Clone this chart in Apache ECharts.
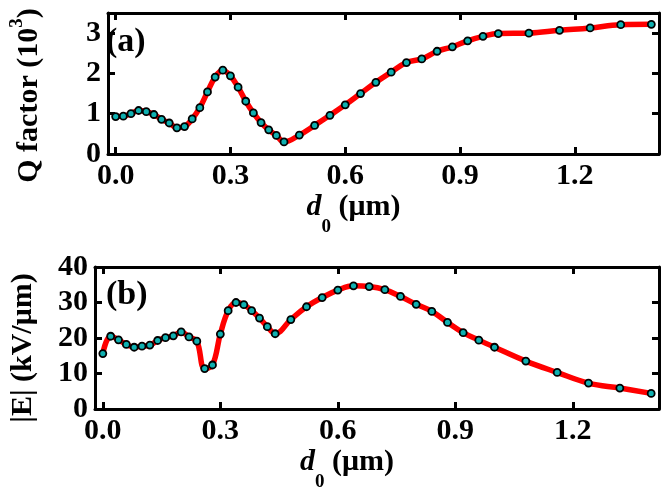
<!DOCTYPE html>
<html>
<head>
<meta charset="utf-8">
<script src="https://cdn.jsdelivr.net/npm/echarts@6/dist/echarts.min.js"></script>
<style>
  html, body { margin: 0; padding: 0; background: #fff; }
  #chart { width: 664px; height: 497px; }
</style>
</head>
<body>
<div id="chart"></div>
<script>
// separation d0 (um), same sampling for both panels
const d0 = [0, 0.02, 0.04, 0.06, 0.08, 0.10, 0.12, 0.14, 0.16, 0.18, 0.20, 0.22,
  0.24, 0.26, 0.28, 0.30, 0.32, 0.34, 0.36, 0.38, 0.40, 0.42, 0.44, 0.48, 0.52,
  0.56, 0.60, 0.64, 0.68, 0.72, 0.76, 0.80, 0.84, 0.88, 0.92, 0.96, 1.00, 1.08,
  1.16, 1.24, 1.32, 1.40];

// (a) Q factor in units of 10^3
const qFactor = [0.93, 0.94, 1.00, 1.08, 1.05, 0.98, 0.86, 0.77, 0.65, 0.68, 0.87, 1.15,
  1.54, 1.91, 2.08, 1.94, 1.66, 1.31, 1.02, 0.78, 0.60, 0.46, 0.30, 0.47, 0.71,
  0.96, 1.22, 1.50, 1.78, 2.03, 2.27, 2.36, 2.55, 2.66, 2.81, 2.92, 2.99, 3.00,
  3.07, 3.13, 3.21, 3.22];

// (b) |E| in kV/um
const eField = [15.6, 20.5, 19.5, 18.2, 17.4, 17.7, 18.0, 19.3, 20.1, 20.6, 21.7, 20.3,
  19.1, 11.4, 12.4, 21.1, 27.7, 30.0, 29.4, 27.7, 25.6, 23.2, 21.2, 25.2, 28.8,
  31.4, 33.5, 34.7, 34.5, 33.6, 31.7, 29.5, 27.5, 24.4, 21.5, 19.4, 17.4, 13.5,
  10.3, 7.3, 5.9, 4.4];

const xTicks = [0, 0.3, 0.6, 0.9, 1.2];
const qTicks = [0, 1, 2, 3];
const eTicks = [0, 10, 20, 30, 40];

const FONT = "Liberation Serif";
const myChart = echarts.init(document.getElementById("chart"));

const frameLine = { show: true, onZero: false, lineStyle: { color: "#000", width: 3 } };

function tickStyle(values) {
  return { show: true, inside: true, length: 7, customValues: values,
    lineStyle: { color: "#000", width: 3 } };
}

function labelStyle(values, digits) {
  return {
    show: true, margin: 7, customValues: values,
    color: "#000", fontFamily: FONT, fontWeight: "bold", fontSize: 30,
    formatter: v => Number(v).toFixed(digits)
  };
}

// x name with italic d and subscript 0
const xName = {
  name: "{i|d}{s|0}{n| (μm)}",
  nameLocation: "middle",
  nameGap: 17,
  nameTextStyle: {
    padding: [0, 60, 0, 0],
    rich: {
      i: { fontFamily: FONT, fontWeight: "bold", fontStyle: "italic", fontSize: 30, color: "#000" },
      s: { fontFamily: FONT, fontWeight: "bold", fontSize: 19, color: "#000", padding: [40, 0, 0, 0] },
      n: { fontFamily: FONT, fontWeight: "bold", fontSize: 30, color: "#000" }
    }
  }
};

function xAxes(grid) {
  return [
    Object.assign({
      type: "value", gridIndex: grid, position: "bottom", min: -0.02, max: 1.42,
      axisLine: frameLine, axisTick: tickStyle(xTicks), axisLabel: labelStyle(xTicks, 1),
      splitLine: { show: false }
    }, xName),
    {
      type: "value", gridIndex: grid, position: "top", min: -0.02, max: 1.42,
      axisLine: frameLine, axisTick: tickStyle(xTicks), axisLabel: { show: false },
      splitLine: { show: false }
    }
  ];
}

function yAxes(grid, max, ticks, name, rich, pad) {
  return [
    {
      type: "value", gridIndex: grid, position: "left", min: 0, max: max,
      axisLine: frameLine, axisTick: tickStyle(ticks), axisLabel: labelStyle(ticks, 0),
      splitLine: { show: false },
      name: name, nameLocation: "middle", nameGap: 57,
      nameTextStyle: { padding: pad, rich: rich }
    },
    {
      type: "value", gridIndex: grid, position: "right", min: 0, max: max,
      axisLine: frameLine, axisTick: tickStyle(ticks), axisLabel: { show: false },
      splitLine: { show: false }
    }
  ];
}

const qRich = {
  n: { fontFamily: FONT, fontWeight: "bold", fontSize: 30, color: "#000" },
  sup: { fontFamily: FONT, fontWeight: "bold", fontSize: 19, color: "#000", padding: [0, 0, 24, 0] }
};
const eRich = {
  n: { fontFamily: FONT, fontWeight: "bold", fontSize: 30, color: "#000" }
};

function lineSeries(data, xi, yi) {
  return {
    type: "line", xAxisIndex: xi, yAxisIndex: yi,
    data: d0.map((x, i) => [x, data[i]]),
    smooth: 0.4,
    lineStyle: { color: "#ff0000", width: 5.5 },
    symbol: "circle", symbolSize: 7,
    itemStyle: { color: "#10b0b0", borderColor: "#000", borderWidth: 1.8 },
    z: 3
  };
}

const option = {
  animation: false,
  backgroundColor: "#fff",
  textStyle: { fontFamily: FONT },
  title: [
    { text: "(a)", left: 101, top: 20,
      textStyle: { fontFamily: FONT, fontWeight: "bold", fontSize: 34, color: "#000" } },
    { text: "(b)", left: 101, top: 273,
      textStyle: { fontFamily: FONT, fontWeight: "bold", fontSize: 34, color: "#000" } }
  ],
  grid: [
    { left: 95, top: 13, width: 564, height: 141 },
    { left: 95, top: 267, width: 564, height: 142 }
  ],
  xAxis: xAxes(0).concat(xAxes(1)),
  yAxis: yAxes(0, 3.5, qTicks, "{n|Q factor (10}{sup|3}{n|)}", qRich, [0, 24, 0, 0])
    .concat(yAxes(1, 40, eTicks, "{n||E| (kV/μm)}", eRich, [0, 20, 0, 0])),
  series: [
    lineSeries(qFactor, 0, 0),
    lineSeries(eField, 2, 2)
  ]
};

myChart.setOption(option);
</script>
</body>
</html>
